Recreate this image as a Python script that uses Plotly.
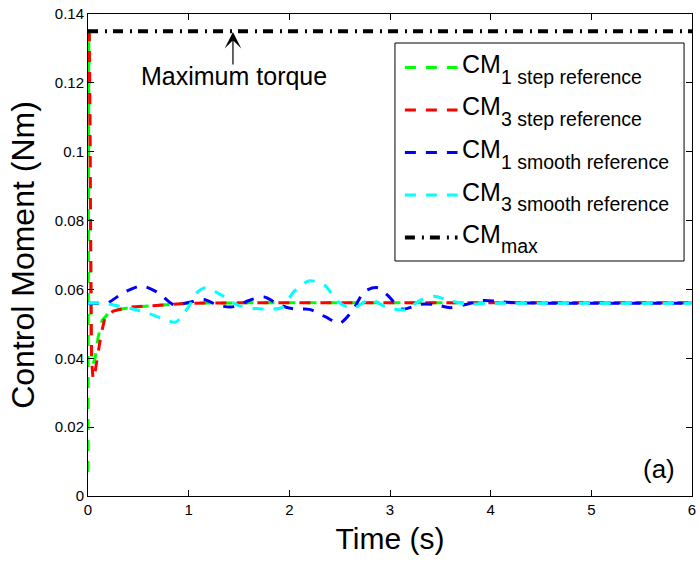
import plotly.graph_objects as go

# ---- data ----
t_cm1_step = [0, 0.008, 0.016, 0.03, 0.045, 0.07, 0.1, 0.14, 0.2, 0.3, 0.5, 0.8, 1.0, 1.5, 2.0, 3.0, 4.0, 5.0, 6.0]
cm1_step = [0.007, 0.135, 0.135, 0.045, 0.038, 0.040, 0.046, 0.051, 0.053, 0.0542, 0.0550, 0.0556, 0.0560, 0.0561, 0.0561, 0.0561, 0.0561, 0.0561, 0.0561]

t_cm3_step = [0, 0.012, 0.035, 0.05, 0.07, 0.1, 0.13, 0.17, 0.25, 0.4, 0.7, 1.0, 1.5, 2.0, 3.0, 4.0, 5.0, 6.0]
cm3_step = [0.135, 0.135, 0.040, 0.034, 0.036, 0.041, 0.047, 0.052, 0.0537, 0.0548, 0.0555, 0.0560, 0.0561, 0.0561, 0.0561, 0.0561, 0.0561, 0.0561]

t_cm1_smooth = [0, 0.1, 0.2, 0.35, 0.53, 0.7, 0.85, 1.0, 1.15, 1.3, 1.45, 1.6, 1.75, 1.9, 2.05, 2.2, 2.36, 2.5, 2.63, 2.75, 2.88, 2.97, 3.12, 3.3, 3.45, 3.6, 3.75, 3.93, 4.1, 4.3, 5.0, 6.0]
cm1_smooth = [0.056, 0.056, 0.0562, 0.059, 0.061, 0.059, 0.0556, 0.0562, 0.0571, 0.0553, 0.0550, 0.0568, 0.0578, 0.0555, 0.0543, 0.0542, 0.0520, 0.0502, 0.0540, 0.0595, 0.0605, 0.0585, 0.0543, 0.0557, 0.0556, 0.0547, 0.0556, 0.0568, 0.0564, 0.0561, 0.0560, 0.0560]

t_cm3_smooth = [0, 0.15, 0.3, 0.45, 0.6, 0.75, 0.87, 1.0, 1.08, 1.17, 1.3, 1.5, 1.75, 1.93, 2.05, 2.2, 2.35, 2.48, 2.63, 2.8, 2.97, 3.15, 3.3, 3.44, 3.58, 3.78, 3.95, 4.2, 5.0, 6.0]
cm3_smooth = [0.056, 0.056, 0.0552, 0.0543, 0.0530, 0.0515, 0.0505, 0.0550, 0.0590, 0.0605, 0.0588, 0.0553, 0.0543, 0.0548, 0.0595, 0.0625, 0.0612, 0.0565, 0.0545, 0.0570, 0.0548, 0.0541, 0.0568, 0.0580, 0.0568, 0.0557, 0.0560, 0.0560, 0.0560, 0.0560]

t_max = [0, 6]
cm_max = [0.135, 0.135]

x_ticks = [0, 1, 2, 3, 4, 5, 6]
y_ticks = [0, 0.02, 0.04, 0.06, 0.08, 0.1, 0.12, 0.14]
y_tick_labels = ["0", "0.02", "0.04", "0.06", "0.08", "0.1", "0.12", "0.14"]

series_names = ["CM<sub>1 step reference</sub>", "CM<sub>3 step reference</sub>",
                "CM<sub>1 smooth reference</sub>", "CM<sub>3 smooth reference</sub>", "CM<sub>max</sub>"]
legend_main = "CM"
legend_subs = ["1 step reference", "3 step reference", "1 smooth reference", "3 smooth reference", "max"]
series_colors = ["#00ff00", "#ff0000", "#0000ff", "#00ffff", "#000000"]

FONT = "Liberation Sans, Arial, sans-serif"
DASH = "11px,10px"
DASHDOT = "10px,7px,2px,6px"
series_dash = [DASH, DASH, DASH, DASH, DASHDOT]
series_width = [3, 3, 3, 3, 4]

fig = go.Figure()
xs = [t_cm1_step, t_cm3_step, t_cm1_smooth, t_cm3_smooth, t_max]
ys = [cm1_step, cm3_step, cm1_smooth, cm3_smooth, cm_max]
for i in range(5):
    line = dict(color=series_colors[i], width=series_width[i], dash=series_dash[i])
    if i in (2, 3):
        line.update(shape="spline", smoothing=0.8)
    fig.add_trace(go.Scatter(x=xs[i], y=ys[i], mode="lines", name=series_names[i],
                             line=line, showlegend=False))

# ---- plot area geometry in pixels (for paper-coordinate placement) ----
L, R, T, B = 88, 696, 14, 496
def px(x):
    return (x - L) / (R - L)
def py(y):
    return (B - y) / (B - T)

# ---- legend drawn by hand (box, samples, labels with subscripts) ----
shapes = [dict(type="rect", xref="paper", yref="paper", x0=px(397), x1=px(688), y0=py(261), y1=py(43),
               line=dict(color="black", width=1), fillcolor="white", layer="above")]
annotations = []
for i in range(5):
    step = 42.5 * i
    yl = 67.5 + step
    shapes.append(dict(type="line", xref="paper", yref="paper", x0=px(407), x1=px(460), y0=py(yl), y1=py(yl),
                       line=dict(color=series_colors[i], width=series_width[i], dash=series_dash[i]),
                       layer="above"))
    annotations.append(dict(xref="paper", yref="paper", x=px(462), y=py(64 + step), xanchor="left",
                            yanchor="middle", text=legend_main, showarrow=False,
                            font=dict(family=FONT, size=25, color="black")))
    annotations.append(dict(xref="paper", yref="paper", x=px(502), y=py(76.5 + step), xanchor="left",
                            yanchor="middle", text=legend_subs[i], showarrow=False,
                            font=dict(family=FONT, size=19.5, color="black")))

annotations.append(dict(x=1.44, y=0.13478, ax=1.44, ay=0.1249, xref="x", yref="y", axref="x", ayref="y",
                        text="", showarrow=True, arrowhead=3, arrowsize=2.3, arrowwidth=1.2, arrowcolor="black"))
annotations.append(dict(x=1.45, y=0.1219, xref="x", yref="y", text="Maximum torque", showarrow=False,
                        font=dict(family=FONT, size=25, color="black")))
annotations.append(dict(x=5.675, y=0.0078, xref="x", yref="y", text="(a)", showarrow=False,
                        font=dict(family=FONT, size=26, color="black")))

fig.update_layout(
    width=700, height=562,
    margin=dict(l=L, r=700 - R, t=T, b=562 - B),
    paper_bgcolor="white", plot_bgcolor="white",
    font=dict(family=FONT, color="black"),
    showlegend=False,
    shapes=shapes, annotations=annotations,
    xaxis=dict(range=[0, 6], tickvals=x_ticks, ticks="inside", ticklen=6, tickcolor="black",
               showline=True, linecolor="black", linewidth=1, mirror="ticks", showgrid=False, zeroline=False,
               tickfont=dict(family=FONT, size=15), ticklabeloverflow="allow",
               title=dict(text="Time (s)", font=dict(family=FONT, size=30), standoff=10)),
    yaxis=dict(range=[0, 0.14], tickvals=y_ticks, ticktext=y_tick_labels, ticks="inside", ticklen=6,
               tickcolor="black", showline=True, linecolor="black", linewidth=1, mirror="ticks",
               showgrid=False, zeroline=False, tickfont=dict(family=FONT, size=15), ticklabeloverflow="allow",
               title=dict(text="Control Moment (Nm)", font=dict(family=FONT, size=32), standoff=10)),
)

fig.write_html("out.html")
